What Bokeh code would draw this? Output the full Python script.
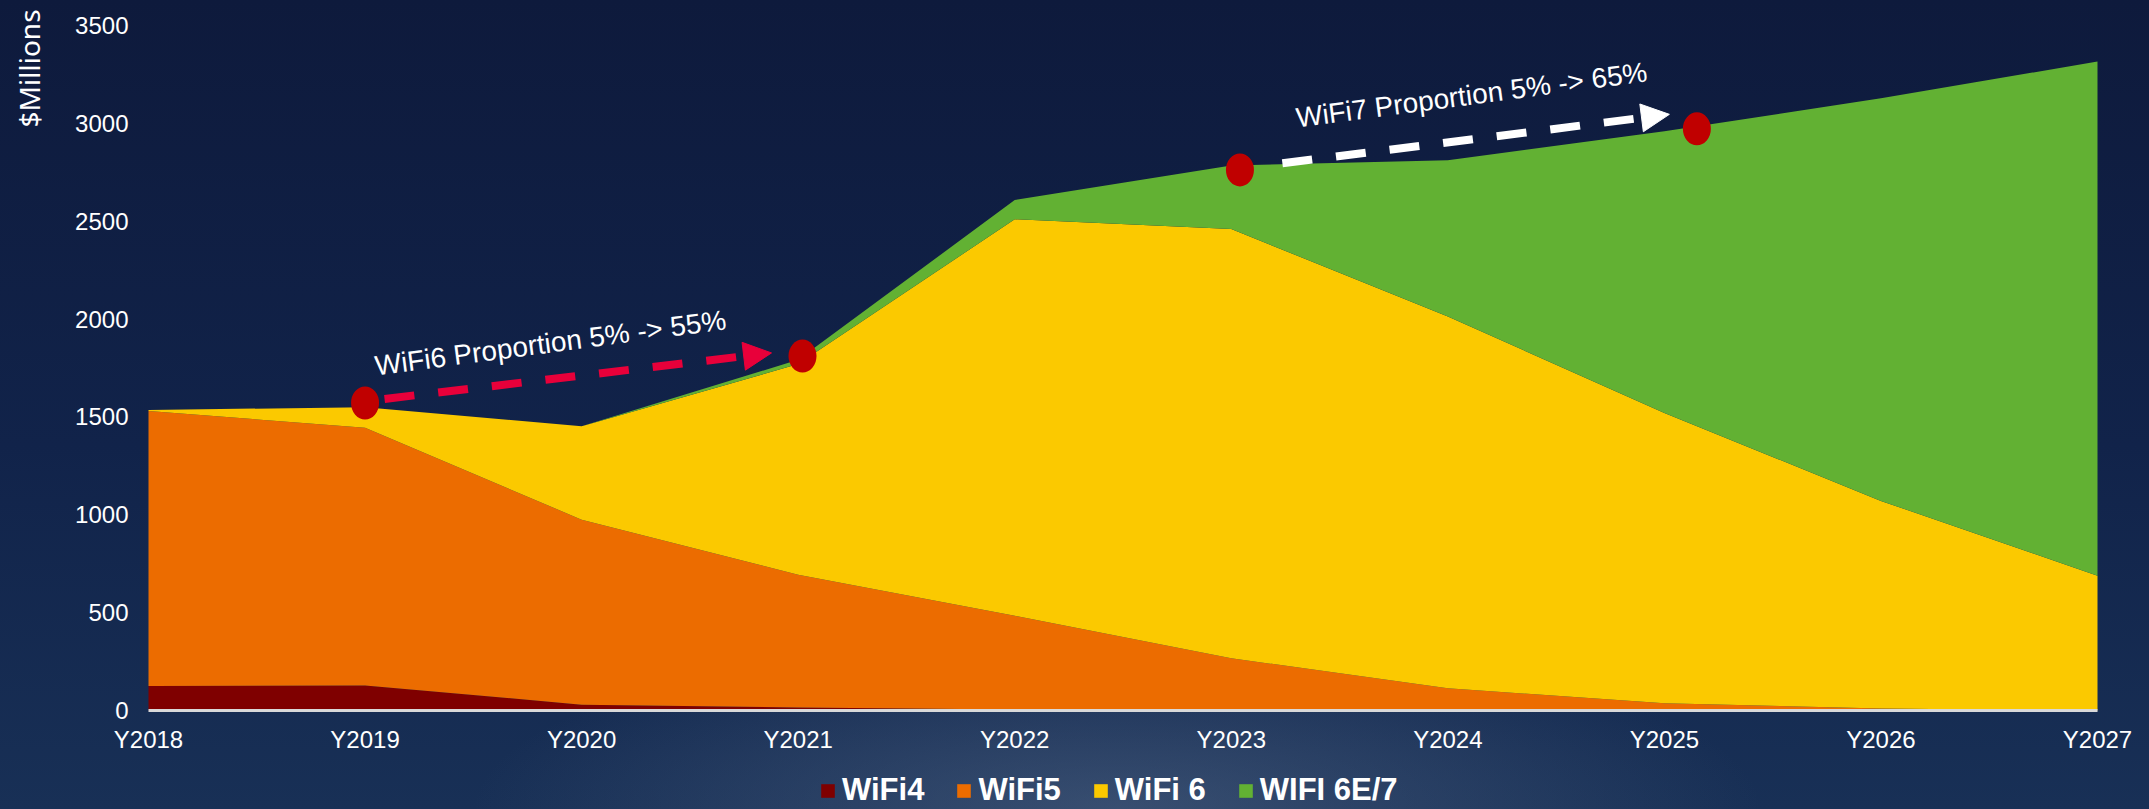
from math import pi, radians
from bokeh.plotting import figure
from bokeh.models import (ColumnDataSource, FixedTicker, Legend, LegendItem, Label,
                          Arrow, NormalHead, Range1d)
from bokeh.embed import file_html
from bokeh.resources import INLINE

# ---------------- data ----------------
years = ["Y2018", "Y2019", "Y2020", "Y2021", "Y2022", "Y2023", "Y2024", "Y2025", "Y2026", "Y2027"]
wifi4 = [125, 128, 30, 15, 5, 3, 1, 0, 0, 0]
wifi5 = [1405, 1317, 945, 679, 479, 264, 113, 37, 10, 0]
wifi6 = [5, 105, 477, 1076, 2026, 2193, 1899, 1483, 1061, 689]
wifi6e7 = [0, 0, 0, 22, 98, 325, 799, 1440, 2057, 2627]
series_names = ["WiFi4", "WiFi5", "WiFi 6", "WIFI 6E/7"]
series_colors = ["#7F0000", "#EC6C00", "#FBC900", "#62B133"]
y_ticks = [0, 500, 1000, 1500, 2000, 2500, 3000, 3500]

# annotation markers (x in year index, y in $M)
dot_x = [1.0, 3.02, 5.04, 7.15]
dot_y = [1571, 1811, 2762, 2972]
arrow_red = dict(x0=1.09, y0=1592, x1=2.877, y1=1827)
arrow_white = dict(x0=5.236, y0=2796, x1=7.023, y1=3046)
note1 = dict(x=1.046, y=1760, text="WiFi6 Proportion 5% -> 55%")
note2 = dict(x=5.30, y=3027, text="WiFi7 Proportion 5% -> 65%")
ylabel = dict(x=-0.55, y=3582, text="$Millions")

BG = "#11214A"
GRAD = ("radial-gradient(ellipse 30% 22% at 52% 100%, rgba(95,115,145,0.45), rgba(0,0,0,0)), "
        "linear-gradient(180deg, #0E1A3C 0%, #11234A 55%, #183056 100%)")

W, H = 2149, 809
# plot area of the reference: x 148..2097 px, y(0)=710 px, y(3500)=25 px
X0, X1, YB, YT = 148, 2097, 710, 25
nx = len(years) - 1
ppx = (X1 - X0) / nx
ppy = (YB - YT) / y_ticks[-1]

xs = list(range(len(years)))
src = ColumnDataSource(dict(x=xs, wifi4=wifi4, wifi5=wifi5, wifi6=wifi6, wifi6e7=wifi6e7))

p = figure(width=W, height=H,
           x_range=Range1d(-X0 / ppx, nx + (W - X1) / ppx),
           y_range=Range1d(-(H - YB) / ppy, y_ticks[-1] + YT / ppy),
           output_backend="svg", toolbar_location=None,
           min_border=0, min_border_left=0, min_border_right=0, min_border_top=0, min_border_bottom=0,
           background_fill_color=None, border_fill_color=None, outline_line_color=None,
           styles={"background": GRAD})

rs = p.varea_stack(stackers=["wifi4", "wifi5", "wifi6", "wifi6e7"], x="x",
                   color=series_colors, source=src)

p.xgrid.visible = False
p.ygrid.visible = False

FONT = "Liberation Sans"
xa = p.xaxis[0]
xa.fixed_location = 0
xa.bounds = (0, nx)
xa.ticker = FixedTicker(ticks=xs)
xa.major_label_overrides = {i: y for i, y in enumerate(years)}
xa.axis_line_color = "#D9D9D9"
xa.axis_line_width = 3
xa.major_tick_line_color = None
xa.minor_tick_line_color = None
xa.major_label_text_color = "white"
xa.major_label_text_font = FONT
xa.major_label_text_font_size = "24px"
xa.major_label_standoff = 9

ya = p.yaxis[0]
ya.fixed_location = 0
ya.bounds = (0, y_ticks[-1])
ya.ticker = FixedTicker(ticks=y_ticks)
ya.axis_line_color = None
ya.major_tick_line_color = None
ya.minor_tick_line_color = None
ya.major_label_text_color = "white"
ya.major_label_text_font = FONT
ya.major_label_text_font_size = "24px"
ya.major_label_standoff = 14

p.add_layout(Label(x=ylabel["x"], y=ylabel["y"], text=ylabel["text"], angle=pi / 2,
                   text_align="right", text_baseline="middle",
                   text_font_size="28px", text_color="white", text_font="Noto Sans"))

# dots
p.ellipse(x=dot_x, y=dot_y, width=28, height=33, width_units="screen", height_units="screen",
          fill_color="#C00000", line_color=None)

# arrows
for a, col in [(arrow_red, "#E8003A"), (arrow_white, "#FFFFFF")]:
    p.add_layout(Arrow(x_start=a["x0"], y_start=a["y0"], x_end=a["x1"], y_end=a["y1"],
                       line_color=col, line_width=8, line_dash="30 24",
                       end=NormalHead(size=28, fill_color=col, line_color=col, line_width=1)))

for n in [note1, note2]:
    p.add_layout(Label(x=n["x"], y=n["y"], text=n["text"], angle=radians(7.5),
                       text_font_size="28px", text_color="white", text_font=FONT,
                       text_baseline="alphabetic"))

legend = Legend(items=[LegendItem(label=n, renderers=[r]) for n, r in zip(series_names, rs)],
                orientation="horizontal", location=(819, 1),
                label_text_font_size="31px", label_text_font_style="bold",
                label_text_color="white", label_text_font=FONT,
                glyph_width=17, glyph_height=17, spacing=31, label_standoff=6,
                padding=0, margin=0,
                background_fill_alpha=0, border_line_color=None)
p.add_layout(legend)

html = file_html(p, INLINE)
css = "<style>html, body { background: " + BG + "; background-image: " + GRAD + "; }</style>"
html = html.replace("</head>", css + "\n</head>", 1)
open("out.html", "w").write(html)
